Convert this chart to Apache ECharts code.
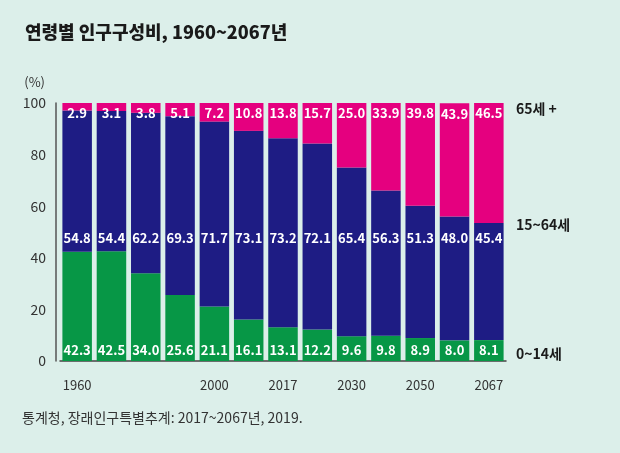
<!DOCTYPE html>
<html>
<head>
<meta charset="utf-8">
<script src="https://cdn.jsdelivr.net/npm/echarts@6/dist/echarts.min.js"></script>
<style>
  html, body { margin: 0; padding: 0; background: #dcefea; }
  #chart { width: 620px; height: 453px; }
</style>
</head>
<body>
<div id="chart"></div>
<script>
// 연령별 인구구성비 데이터
const years = ['1960', '1970', '1980', '1990', '2000', '2010', '2017', '2020', '2030', '2040', '2050', '2060', '2067'];
const shownYears = ['1960', '2000', '2017', '2030', '2050', '2067'];
const child = [42.3, 42.5, 34.0, 25.6, 21.1, 16.1, 13.1, 12.2, 9.6, 9.8, 8.9, 8.0, 8.1];
const working = [54.8, 54.4, 62.2, 69.3, 71.7, 73.1, 73.2, 72.1, 65.4, 56.3, 51.3, 48.0, 45.4];
const elderly = [2.9, 3.1, 3.8, 5.1, 7.2, 10.8, 13.8, 15.7, 25.0, 33.9, 39.8, 43.9, 46.5];
const groupNames = ['0~14세', '15~64세', '65세 +'];
const workingLabelLevel = 47.7; // 15~64세 숫자가 놓이는 높이(%)

const FONT = '"Noto Sans CJK KR", "Noto Sans", sans-serif';
const COLORS = { child: '#079746', working: '#1e1c84', elderly: '#e5007f' };

function fmt(v) { return v.toFixed(1); }

const chart = echarts.init(document.getElementById('chart'));

const labelText = {
    color: '#ffffff', fontFamily: FONT, fontSize: 13, fontWeight: 'bold', opacity: 1,
    textBorderWidth: 0, textBorderColor: 'transparent', textShadowBlur: 0
};
const barLabel = (pos) => Object.assign({
    show: true, position: pos, distance: 4,
    formatter: (p) => fmt(p.value)
}, labelText);

chart.setOption({
    backgroundColor: '#dcefea',
    animation: false,
    textStyle: { fontFamily: FONT },
    title: {
        text: '연령별 인구구성비, 1960~2067년',
        left: 20, top: 18,
        textStyle: { fontFamily: FONT, fontSize: 18, fontWeight: 900, color: '#1a1a1a' }
    },
    grid: { left: 60, right: 114, top: 103, bottom: 92 },
    xAxis: {
        type: 'category', data: years,
        axisLine: { show: true, lineStyle: { color: '#444', width: 1.5 } },
        axisTick: { show: false },
        axisLabel: {
            interval: 0, margin: 18, color: '#333', fontFamily: FONT, fontSize: 13,
            formatter: (v) => shownYears.includes(v) ? v : ''
        }
    },
    yAxis: {
        type: 'value', min: 0, max: 100, interval: 20, offset: 4,
        name: '(%)', nameLocation: 'end', nameGap: 14,
        nameTextStyle: { color: '#333', fontFamily: FONT, fontSize: 13, align: 'right', padding: [0, 11, 0, 0] },
        axisLine: { show: true, lineStyle: { color: '#555', width: 1.5 } },
        axisTick: { show: false },
        splitLine: { show: false },
        axisLabel: { color: '#333', fontFamily: FONT, fontSize: 14, margin: 10 }
    },
    series: [
        {
            name: groupNames[0], type: 'bar', stack: 'pop', data: child, barCategoryGap: '14%',
            itemStyle: { color: COLORS.child },
            label: barLabel('insideBottom')
        },
        {
            name: groupNames[1], type: 'bar', stack: 'pop', data: working,
            itemStyle: { color: COLORS.working },
            label: { show: false }
        },
        {
            name: groupNames[2], type: 'bar', stack: 'pop', data: elderly,
            itemStyle: { color: COLORS.elderly },
            label: barLabel('insideTop')
        },
        {
            // 15~64세 숫자는 같은 높이에 표시
            type: 'scatter', symbolSize: 1, silent: true, z: 5,
            itemStyle: { color: COLORS.working, opacity: 1 },
            data: working.map(() => workingLabelLevel),
            label: Object.assign({
                show: true, position: 'inside',
                formatter: (p) => fmt(working[p.dataIndex])
            }, labelText)
        }
    ],
    graphic: [
        { type: 'text', left: 516, top: 102, style: { text: groupNames[2], font: 'bold 14px ' + FONT, fill: '#1a1a1a' } },
        { type: 'text', left: 516, top: 218, style: { text: groupNames[1], font: 'bold 14px ' + FONT, fill: '#1a1a1a' } },
        { type: 'text', left: 516, top: 347, style: { text: groupNames[0], font: 'bold 14px ' + FONT, fill: '#1a1a1a' } },
        { type: 'text', left: 22, top: 411, style: { text: '통계청, 장래인구특별추계: 2017~2067년, 2019.', font: '14px ' + FONT, fill: '#333' } }
    ]
});
</script>
</body>
</html>
